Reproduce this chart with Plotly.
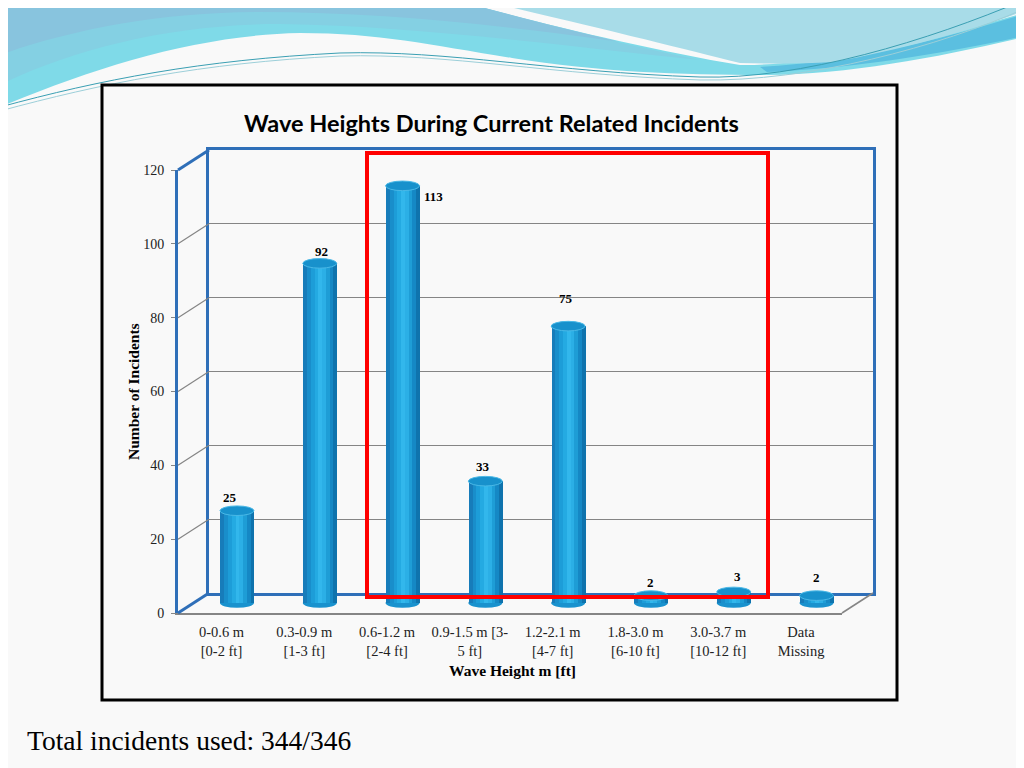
import plotly.graph_objects as go

###chart data
categories = ['0-0.6 m<br>[0-2 ft]', '0.3-0.9 m<br>[1-3 ft]', '0.6-1.2 m<br>[2-4 ft]',
              '0.9-1.5 m [3-<br>5 ft]', '1.2-2.1 m<br>[4-7 ft]', '1.8-3.0 m<br>[6-10 ft]',
              '3.0-3.7 m<br>[10-12 ft]', 'Data<br>Missing']
incidents = [25, 92, 113, 33, 75, 2, 3, 2]
y_ticks = [0, 20, 40, 60, 80, 100, 120]

###page geometry (pixels of the slide, page body adds an 8px margin)
OFF = 8
W, H = 1024 - OFF, 768 - OFF
SERIF = 'Liberation Serif'
BLUE = '#2f6fb8'
GREY = '#858585'

# 3d planes: back wall, bar plane, front face
back = dict(x0=209, x1=873, y0=593, y1=150)
dx, dy = -15.5, 10
x_range = [-0.525, 7.495]
y_range = [0, 120]

def fx(p):
    return (p - OFF) / W

def fy(p):
    return 1 - (p - OFF) / H

def plane(shift):
    return dict(x0=back['x0'] + dx * shift, x1=back['x1'] + dx * shift,
                y0=back['y0'] + dy * shift, y1=back['y1'] + dy * shift)

mid = plane(1)
front = plane(2)

def val_to_py(v, pl):
    return pl['y0'] + (v - y_range[0]) / (y_range[1] - y_range[0]) * (pl['y1'] - pl['y0'])

def line(x0, y0, x1, y1, color, width):
    return dict(type='line', xref='paper', yref='paper', x0=fx(x0), y0=fy(y0), x1=fx(x1), y1=fy(y1),
                line=dict(color=color, width=width))

def path(points, close=True):
    s = 'M' + ' '.join('%s %.4f,%.4f' % (c, fx(x), fy(y)) if c else '%.4f,%.4f' % (fx(x), fy(y))
                       for c, x, y in points)
    return s + (' Z' if close else '')

fig = go.Figure()

###cylinder bars as vertical colour stripes
bar_w = 0.41
stripe_cols = ['#177cba', '#198ecb', '#1d9dd8', '#24aae2', '#32b7ec',
               '#2bafe6', '#1e9dd6', '#1588c5', '#0f73ad']
sw = bar_w / len(stripe_cols)
for k, col in enumerate(stripe_cols):
    fig.add_trace(go.Bar(x=list(range(len(incidents))), y=incidents, width=sw,
                         offset=-bar_w / 2 + k * sw, marker=dict(color=col, line=dict(width=0)),
                         xaxis='x2', yaxis='y2', showlegend=False, hoverinfo='skip'))

# invisible traces so every plane gets drawn
fig.add_trace(go.Scatter(x=[0], y=[0], xaxis='x', yaxis='y', mode='markers',
                         marker=dict(opacity=0), showlegend=False, hoverinfo='skip'))
fig.add_trace(go.Scatter(x=[0], y=[0], xaxis='x3', yaxis='y3', mode='markers',
                         marker=dict(opacity=0), showlegend=False, hoverinfo='skip'))

shapes = []

###slide background waves
def bg(points, fill):
    return dict(type='path', xref='paper', yref='paper', layer='below', line=dict(width=0),
                fillcolor=fill, path=path(points))

# cyan swell across the top
shapes.append(bg([('', 0, 0), ('L', 455, 0), ('C', 520, 18), ('', 640, 48), ('', 740, 65),
                  ('C', 800, 66), ('', 900, 48), ('', 1024, 13), ('L', 1024, 37),
                  ('C', 940, 57), ('', 850, 74), ('', 767, 75),
                  ('C', 680, 75), ('', 600, 72), ('', 512, 58),
                  ('C', 430, 45), ('', 380, 33), ('', 300, 33),
                  ('C', 200, 35), ('', 100, 65), ('', 0, 107)], '#7fdae8'))
# mid tone and darker blue tone on its upper part
shapes.append(bg([('', 0, 0), ('L', 455, 0), ('C', 520, 18), ('', 600, 40), ('', 700, 60),
                  ('C', 560, 46), ('', 420, 26), ('', 280, 24),
                  ('C', 170, 24), ('', 70, 50), ('', 0, 85)], '#84d0e3'))
shapes.append(bg([('', 0, 0), ('L', 455, 0), ('C', 500, 12), ('', 560, 28), ('', 620, 42),
                  ('C', 500, 25), ('', 380, 12), ('', 260, 12),
                  ('C', 160, 12), ('', 70, 30), ('', 0, 55)], '#88c4de'))
# deeper blue streak on the right
shapes.append(bg([('', 760, 67), ('C', 850, 62), ('', 940, 40), ('', 1024, 14),
                  ('L', 1024, 36), ('C', 950, 52), ('', 860, 68), ('', 767, 72)], '#5bbfe0'))
# pale cyan region, top right
shapes.append(bg([('', 480, 0), ('L', 1024, 0), ('L', 1024, 11),
                  ('C', 980, 28), ('', 900, 50), ('', 833, 62),
                  ('C', 800, 64), ('', 770, 64), ('', 740, 63),
                  ('C', 680, 48), ('', 600, 28), ('', 480, 0)], '#a8dce8'))
for col, pts in [('#3a9fb3', [('', 0, 107), ('C', 100, 80), ('', 200, 60), ('', 340, 53),
                              ('C', 450, 50), ('', 550, 72), ('', 700, 77),
                              ('C', 800, 80), ('', 930, 40), ('', 1024, 0)]),
                 ('#9ccfd9', [('', 0, 111), ('C', 100, 84), ('', 200, 63), ('', 340, 56),
                              ('C', 450, 53), ('', 550, 75), ('', 700, 80),
                              ('C', 810, 82), ('', 940, 46), ('', 1024, 9)])]:
    shapes.append(dict(type='path', xref='paper', yref='paper', layer='below',
                       line=dict(color=col, width=1), fillcolor='rgba(0,0,0,0)',
                       path=path(pts, close=False)))

###chart frame
shapes.append(dict(type='rect', xref='paper', yref='paper', layer='below',
                   x0=fx(102), y0=fy(700), x1=fx(897), y1=fy(85),
                   line=dict(color='black', width=3), fillcolor='#f9f9f9'))

###3d box edges
for v in y_ticks[1:-1]:
    shapes.append(line(front['x0'], val_to_py(v, front), back['x0'], val_to_py(v, back), GREY, 1.2))
shapes.append(line(front['x0'], front['y0'], back['x0'], back['y0'], BLUE, 3))
shapes.append(line(front['x0'], front['y1'], back['x0'], back['y1'], BLUE, 3))
shapes.append(line(front['x1'], front['y0'], back['x1'], back['y0'], GREY, 1.5))

###cylinder caps and bottoms
for i, v in enumerate(incidents):
    shapes.append(dict(type='circle', xref='x2', yref='y2', layer='between',
                       x0=i - bar_w / 2, x1=i + bar_w / 2, y0=-1.3, y1=1.3,
                       fillcolor='#1992ce', line=dict(width=0)))
    shapes.append(dict(type='circle', xref='x2', yref='y2', layer='above',
                       x0=i - bar_w / 2, x1=i + bar_w / 2, y0=v - 1.3, y1=v + 1.3,
                       fillcolor='#1891cc', line=dict(color='#4ab8e6', width=1)))

###red highlight box
shapes.append(dict(type='rect', xref='paper', yref='paper', layer='above',
                   x0=fx(367), x1=fx(768), y0=fy(597), y1=fy(153),
                   line=dict(color='#ff0000', width=4), fillcolor='rgba(0,0,0,0)'))

###annotations
lab_dx = [-7, 2, 31, -2, -2, 0, 4, 0]
lab_dy = [13, 12, -11, 15, 28, 13, 15, 18]
annotations = []
for i, v in enumerate(incidents):
    annotations.append(dict(x=i, y=v, xref='x2', yref='y2', text='<b>%d</b>' % v, showarrow=False,
                            xshift=lab_dx[i], yshift=lab_dy[i],
                            font=dict(family=SERIF, size=13, color='black')))

def text_at(x, y, txt, size, family=SERIF, xanchor='center', **kw):
    return dict(x=fx(x), y=fy(y), xref='paper', yref='paper', showarrow=False, text=txt,
                xanchor=xanchor, yanchor='middle',
                font=dict(family=family, size=size, color='black'), **kw)

annotations.append(text_at(491, 123, '<b>Wave Heights During Current Related Incidents</b>', 23.5, 'Lato'))
annotations.append(text_at(133, 392, '<b>Number of Incidents</b>', 15.5, textangle=-90))
annotations.append(text_at(512, 670, '<b>Wave Height m [ft]</b>', 15.5))
annotations.append(text_at(25, 740, 'Total incidents used: 344/346', 27.5, xanchor='left'))

def xdom(pl):
    return [fx(pl['x0']), fx(pl['x1'])]

def ydom(pl):
    return [fy(pl['y0']), fy(pl['y1'])]

fig.update_layout(
    width=W, height=H, margin=dict(l=0, r=0, t=0, b=0, pad=0),
    paper_bgcolor='#f9f9f9', plot_bgcolor='rgba(0,0,0,0)',
    barmode='overlay', bargap=0, showlegend=False,
    shapes=shapes, annotations=annotations,
    # back wall
    xaxis=dict(domain=xdom(back), range=x_range, anchor='y', showgrid=False, zeroline=False,
               showticklabels=False, showline=True, mirror=True, linecolor=BLUE, linewidth=3,
               automargin=False),
    yaxis=dict(domain=ydom(back), range=y_range, anchor='x', tickvals=y_ticks, showgrid=True,
               gridcolor=GREY, gridwidth=1.2, zeroline=False, showticklabels=False,
               showline=True, mirror=True, linecolor=BLUE, linewidth=3, automargin=False),
    # bar plane
    xaxis2=dict(domain=xdom(mid), range=x_range, anchor='y2', visible=False, automargin=False),
    yaxis2=dict(domain=[fy(mid['y0'] + 4 * (mid['y0'] - mid['y1']) / 120), fy(mid['y1'])],
                range=[-4, 120], anchor='x2', visible=False, automargin=False),
    # front face
    xaxis3=dict(domain=xdom(front), range=x_range, anchor='y3', showgrid=False, zeroline=False,
                tickvals=list(range(len(categories))), ticktext=categories, ticks='',
                ticklabelstandoff=5, showline=True, linecolor=GREY, linewidth=1.5,
                tickfont=dict(family=SERIF, size=14.5, color='#222222'), automargin=False),
    yaxis3=dict(domain=ydom(front), range=y_range, anchor='x3', tickvals=y_ticks, showgrid=False,
                zeroline=False, ticks='outside', ticklen=4, tickcolor=GREY, ticklabelstandoff=4,
                showline=True, linecolor=BLUE, linewidth=3,
                tickfont=dict(family=SERIF, size=14, color='#222222'), automargin=False),
)

fig.write_html("out.html")
